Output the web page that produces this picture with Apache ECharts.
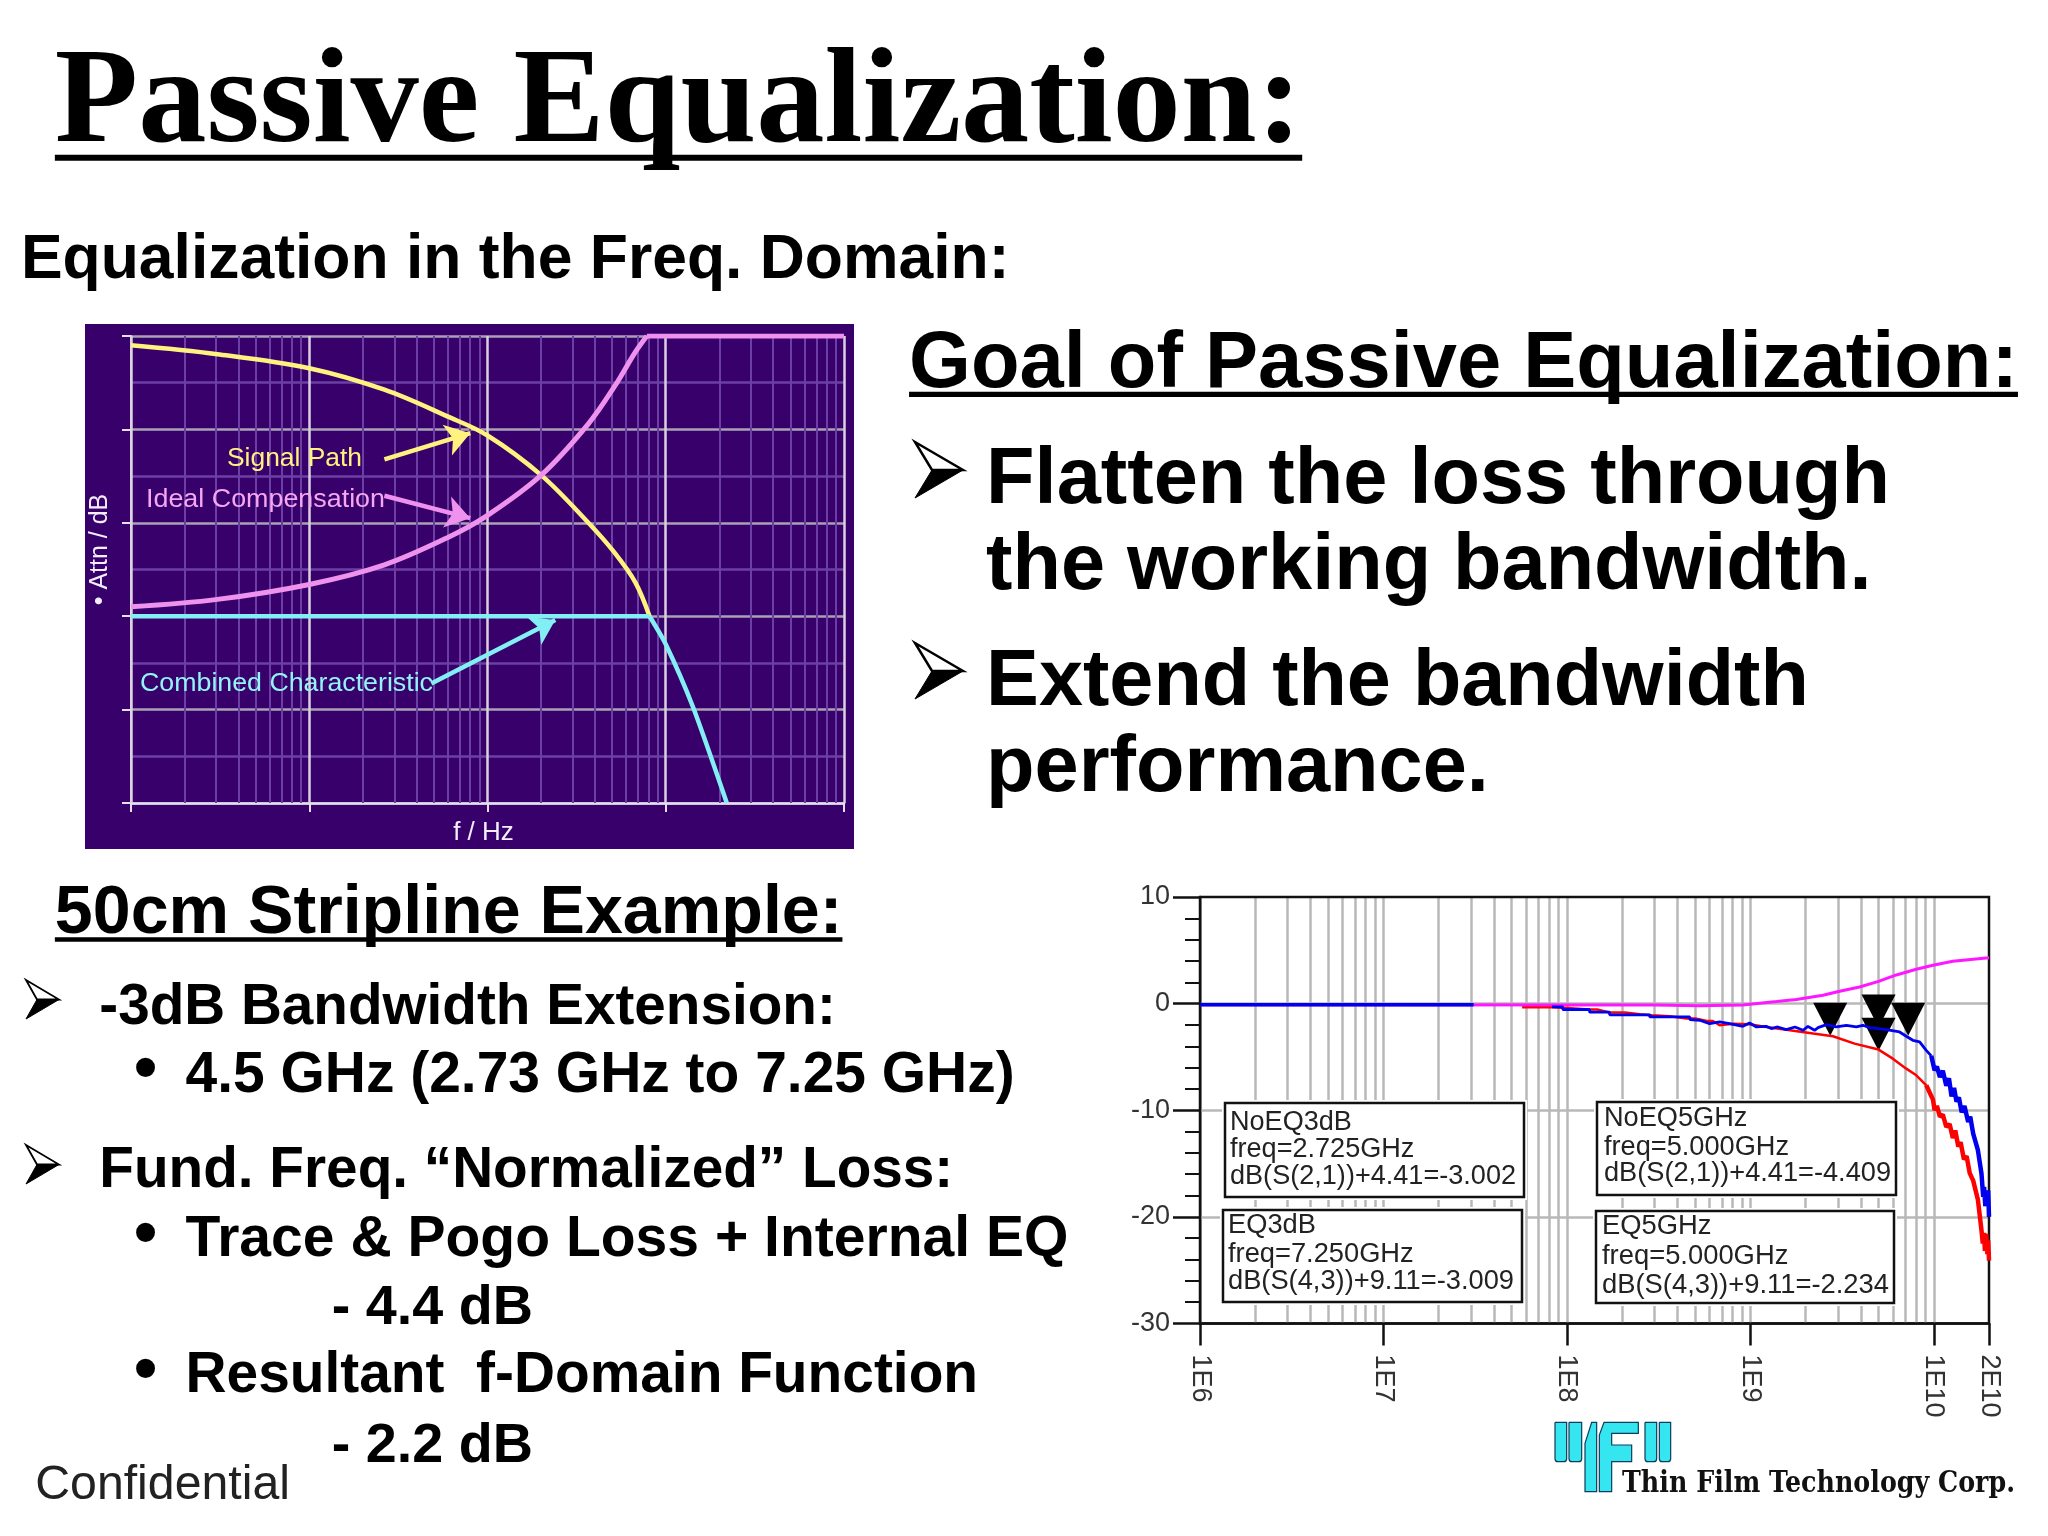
<!DOCTYPE html>
<html><head><meta charset="utf-8">
<style>html,body{margin:0;padding:0;background:#fff}#c{width:2048px;height:1536px}</style>
<script src="https://cdn.jsdelivr.net/npm/echarts@6/dist/echarts.min.js"></script>
</head><body><div id="c"></div>
<script>
// ---------- left chart data (relative frequency, attenuation) ----------
const signalPath = [[1,-1],[3.05,-1.95],[10,-3.45],[26.4,-5.75],[59.5,-8.6],[100,-10.65],[200,-14.9],[368,-20],[516,-23.2],[676,-26.4],[811,-30]];
const idealRise = [[1,-29],[3.05,-28.2],[10,-26.6],[26.4,-24.5],[59.5,-21.6],[100,-19.2],[200,-14.9],[368,-9.4],[516,-5.4],[676,-1.7],[784,0]];
const idealFlat = [[784,0],[10000,0]];
const combinedFlat = [[1,-30],[811,-30]];
const combinedFall = [[811,-30],[1000,-33],[1420,-39.7],[2200,-50]];
const signalArrow = [[26.4,-13.2],[80,-10.4]];
const idealArrow = [[26.4,-17.1],[80,-19.5]];
const combinedArrow = [[48.4,-37.2],[240,-30.4]];
const leftMajorX = [1,10,100,1000,10000];
const leftMinorX = [2,3,4,5,6,7,8,9,20,30,40,50,60,70,80,90,200,300,400,500,600,700,800,900,2000,3000,4000,5000,6000,7000,8000,9000];
const leftMinorY = [-5,-15,-25,-35,-45];

// ---------- right chart data (Hz, dB) ----------
const gainCurve = [[1e6,-0.1],[3e8,-0.12],[5.3e8,-0.19],[9.1e8,-0.12],[1.39e9,0.19],[1.78e9,0.38],[2.49e9,0.78],[3.07e9,1.16],[3.94e9,1.56],[5e9,2.09],[6.25e9,2.69],[8.03e9,3.22],[9.9e9,3.6],[1.27e10,3.97],[1.93e10,4.28],[2e10,4.3]];
const eqLow = [[1e6,-0.1],[3.1e7,-0.1]];
const eqMid = [[8.3e7,-0.3],[9.5e7,-0.3],[9.5e7,-0.55],[1.33e8,-0.55],[1.33e8,-0.8],[1.71e8,-0.8],[1.71e8,-1.05],[2.83e8,-1.05],[2.83e8,-1.25],[4.68e8,-1.25],[4.68e8,-1.5],[5.3e8,-1.56],[6e8,-1.88],[6.8e8,-1.72],[7.7e8,-1.88],[9.1e8,-2.13],[9.9e8,-1.81],[1.08e9,-2.19],[1.22e9,-2.13],[1.3e9,-2.34],[1.41e9,-2.19],[1.57e9,-2.44],[1.75e9,-2.19],[1.94e9,-2.5],[2.06e9,-2.13],[2.24e9,-2.5],[2.34e9,-2.25],[2.6e9,-1.97],[2.94e9,-2.19],[3.34e9,-2.03],[3.78e9,-2.19],[4.11e9,-2.03],[4.47e9,-2.25],[5.51e9,-2.44],[6.51e9,-2.66],[7.08e9,-3.06],[7.69e9,-3.44],[8.37e9,-3.59],[9.1e9,-4.38],[9.69e9,-4.9]];
const eqHigh = [[9.69e9,-4.9],[1.01e10,-6.25],[1.04e10,-5.9],[1.08e10,-6.9],[1.12e10,-6.3],[1.17e10,-7.7],[1.21e10,-7],[1.25e10,-8.7],[1.29e10,-7.9],[1.33e10,-9.2],[1.37e10,-8.8],[1.42e10,-10.2],[1.47e10,-9.6],[1.54e10,-11.1],[1.58e10,-10.6],[1.64e10,-12.2],[1.74e10,-13.75],[1.82e10,-15.94],[1.86e10,-18.13],[1.88e10,-17.2],[1.91e10,-19],[1.94e10,-17.6],[1.96e10,-19],[1.98e10,-17.5],[2e10,-20]];
const noEqMid = [[5.7e7,-0.35],[8.3e7,-0.35],[1e8,-0.4],[1.33e8,-0.55],[1.46e8,-0.55],[1.71e8,-0.83],[2.07e8,-0.83],[2.5e8,-1],[2.9e8,-1.1],[3.64e8,-1.18],[4.5e8,-1.4],[5e8,-1.4],[5.8e8,-1.63],[6.25e8,-1.63],[6.8e8,-2.03],[8.05e8,-1.88],[9.9e8,-1.94],[1.22e9,-2.19],[1.57e9,-2.44],[2.2e9,-2.81],[2.82e9,-3.06],[3.7e9,-3.75],[5e9,-4.31],[5.98e9,-5.16],[7.08e9,-6.1],[8.03e9,-6.72],[9.1e9,-7.66]];
const noEqHigh = [[9.1e9,-7.66],[9.9e9,-9],[1.01e10,-10],[1.04e10,-9.6],[1.08e10,-10.6],[1.12e10,-10.4],[1.17e10,-11.56],[1.22e10,-11.3],[1.27e10,-12.6],[1.31e10,-11.9],[1.36e10,-13.4],[1.4e10,-13],[1.46e10,-14.6],[1.51e10,-14.3],[1.57e10,-15.9],[1.64e10,-16.6],[1.74e10,-18.4],[1.82e10,-21.25],[1.85e10,-22.5],[1.88e10,-21.5],[1.9e10,-23.2],[1.93e10,-21.6],[1.96e10,-23.5],[1.98e10,-22.2],[2e10,-24.1]];
const markerPoints = [[2.725e9,-3.002],[7.25e9,-3.009],[5e9,-4.409],[5e9,-2.234]];
const rightMajorY = [0,-10,-20];
const rightGridX = [];
[1e6,1e7,1e8,1e9].forEach(d => [1,2,3,4,5,6,7,8,9].forEach(m => rightGridX.push(d*m)));
rightGridX.push(1e10);

// ---------- annotation boxes ----------
const boxLines = [
  ['NoEQ3dB','freq=2.725GHz','dB(S(2,1))+4.41=-3.002'],
  ['EQ3dB','freq=7.250GHz','dB(S(4,3))+9.11=-3.009'],
  ['NoEQ5GHz','freq=5.000GHz','dB(S(2,1))+4.41=-4.409'],
  ['EQ5GHz','freq=5.000GHz','dB(S(4,3))+9.11=-2.234']
];

// ---------- text helper ----------
const K = 2048/1568;
const cv = document.createElement('canvas').getContext('2d');
const SANS = '"Liberation Sans"', SERIF = '"Liberation Serif"';
const gfx = [];
function txt(s, x0, x1, base, o){ // pixel coordinates
  o = o || {};
  const fam = o.family || SANS, wt = o.weight || 'bold';
  cv.font = wt+' 100px '+fam;
  const w100 = cv.measureText(s).width;
  let size = o.size, sx = 1;
  if (x1 != null) {
    if (size) sx = (x1-x0)/(w100*size/100); else size = (x1-x0)/w100*100;
  }
  cv.font = wt+' '+size+'px '+fam;
  cv.textBaseline = 'middle';
  const d = cv.measureText('H').actualBoundingBoxDescent;
  cv.textBaseline = 'alphabetic';
  gfx.push({type:'text', x:x0, y:base-d, scaleX:sx, z:o.z||60, silent:true,
    style:{text:s, x:0, y:0, fontSize:size, fontFamily:fam, fontWeight:wt, fill:o.color||'#000', align:'left', verticalAlign:'middle'}});
}
function m(s,a,b,base,o){ txt(s,a*K,b==null?null:b*K,base*K,o); }
function rect(x,y,w,h,fill,o){ o=o||{}; gfx.push({type:'rect',z:o.z==null?60:o.z,silent:true,shape:{x,y,width:w,height:h,r:o.r||0},style:{fill,stroke:o.stroke||null,lineWidth:o.lw||0}}); }
function poly(points,fill,stroke,lw){ gfx.push({type:'polygon',z:60,silent:true,shape:{points},style:{fill,stroke,lineWidth:lw,lineJoin:'miter'}}); }
function arrowHead(x,top,tip,notch,bottom){ // outlined upper half, solid lower half
  const mid=(top+bottom)/2;
  poly([[x,top],[tip,mid],[notch,mid]],'#fff','#000',top<700?2.5:1.8);
  poly([[x,bottom],[tip,mid],[notch,mid]],'#000','#000',1);
}

// slide text
m('Passive Equalization:',42,997,108,{family:SERIF});
rect(42*K,118.5*K,955*K,4.5*K,'#000');
m('Equalization in the Freq. Domain:',16,773,213);
m('Goal of Passive Equalization:',696,1545,296);
rect(696*K,300*K,849*K,4*K,'#000');
arrowHead(915,442,963,932,498);
m('Flatten the loss through',755,1447,385);
m('the working bandwidth.',755,1433,451);
arrowHead(915,643,963,932,699);
m('Extend the bandwidth',755,1385,540);
m('performance.',755,1140,605.5);
m('50cm Stripline Example:',42,645,714);
rect(42*K,717.5*K,603*K,3.5*K,'#000');
arrowHead(26,980,59,37,1019);
m('-3dB Bandwidth Extension:',76,640,784);
m('\u2022',102.5,null,834,{size:66});
m('4.5 GHz (2.73 GHz to 7.25 GHz)',142,777,836);
arrowHead(26,1145,59,37,1184);
m('Fund. Freq. \u201CNormalized\u201D Loss:',76,730,909);
m('\u2022',102.5,null,960,{size:66});
m('Trace & Pogo Loss + Internal EQ',142,818,962);
m('- 4.4 dB',254,408,1014);
m('\u2022',102.5,null,1064,{size:66});
m('Resultant  f-Domain Function',142,749,1066);
m('- 2.2 dB',254,408,1119);
m('Confidential',27,222,1148,{weight:'normal',color:'#222'});

// left panel background
rect(85,324,769,525,'#38006b',{z:-1});
// left chart labels
txt('Signal Path',227,362,466,{weight:'normal',size:26,color:'#fff27f'});
txt('Ideal Compensation',146,385,507,{weight:'normal',size:26,color:'#f6a6f2'});
txt('Combined Characteristic',140,433,691,{weight:'normal',size:26,color:'#93f3f7'});

// annotation boxes
const boxGeom = [
 {x:1225,y:1103,w:299,h:94,tx:1230,tr:1516,b:[1130,1157,1184]},
 {x:1223,y:1210,w:299,h:92,tx:1228,tr:1514,b:[1233,1262,1289]},
 {x:1597,y:1102,w:299,h:93,tx:1604,tr:1891,b:[1126,1155,1181]},
 {x:1596,y:1211,w:298,h:92,tx:1602,tr:1889,b:[1234,1264,1293]}
];
boxGeom.forEach((g,i)=>{
  rect(g.x-3,g.y-3,g.w+6,g.h+6,'#fff',{z:40});
  rect(g.x,g.y,g.w,g.h,'#fff',{z:41,stroke:'#111',lw:2.5});
  boxLines[i].forEach((l,j)=>{
    cv.font='normal 27px '+SANS;
    const full=cv.measureText(boxLines[i][2]).width;
    const sx=(g.tr-g.tx)/full;
    txt(l,g.tx,g.tx+cv.measureText(l).width*sx,g.b[j],{weight:'normal',size:27,color:'#222',z:45});
  });
});

// logo
const LOGO='#35e6f0', LS='#0c3d5c';
const lx=v=>1540+v/3, ly=v=>1410+v/3;
[[45,37,80,155],[87,37,125,155],[315,37,350,155],[358,37,392,155]].forEach(b=>rect(lx(b[0]),ly(b[1]),(b[2]-b[0])/3,(b[3]-b[1])/3,LOGO,{stroke:LS,lw:1.2,r:[0,0,3,3]}));
poly([[lx(135),ly(245)],[lx(135),ly(100)],[lx(155),ly(37)],[lx(170),ly(37)],[lx(170),ly(245)]],LOGO,LS,1.2);
poly([[lx(178),ly(245)],[lx(178),ly(75)],[lx(192),ly(37)],[lx(295),ly(37)],[lx(295),ly(70)],[lx(215),ly(70)],[lx(215),ly(105)],[lx(275),ly(105)],[lx(275),ly(155)],[lx(215),ly(155)],[lx(215),ly(245)]],LOGO,LS,1.2);
txt('Thin Film Technology Corp.',1622,2015,1492,{family:'"DejaVu Serif"',size:30,color:'#111'});

// ---------- series helpers ----------
const ruleBase = (color,width,z) => ({silent:true,animation:false,z,symbol:'none',label:{show:false},lineStyle:{color,width,type:'solid'}});
const vLines = (arr,color,width,xi,yi) => ({type:'line',xAxisIndex:xi,yAxisIndex:yi,data:[],z:1,silent:true,
  markLine:Object.assign(ruleBase(color,width,1),{data:arr.map(v=>({xAxis:v}))})});
const hLines = (arr,color,width,xi,yi) => ({type:'line',xAxisIndex:xi,yAxisIndex:yi,data:[],z:1,silent:true,
  markLine:Object.assign(ruleBase(color,width,1),{data:arr.map(v=>({yAxis:v}))})});
const curve = (name,data,color,width,xi,yi,z,smooth) => ({type:'line',name,xAxisIndex:xi,yAxisIndex:yi,data,z,showSymbol:false,symbol:'none',smooth:smooth||false,silent:true,lineStyle:{color,width}});
const arrow = (pair,color) => ({type:'line',xAxisIndex:0,yAxisIndex:0,data:[],z:6,silent:true,
  markLine:{silent:true,animation:false,z:6,symbol:['none','arrow'],symbolSize:24,label:{show:false},lineStyle:{color,width:4.5,type:'solid'},
    data:[[{coord:pair[0]},{coord:pair[1]}]]}});

const option = {
  animation:false,
  backgroundColor:'#fff',
  textStyle:{fontFamily:SANS},
  grid:[
    {left:131,top:336,width:713,height:467},
    {left:1200,top:897,width:789,height:426.5,z:2,show:true,borderColor:'#111',borderWidth:2.5,backgroundColor:'transparent'}
  ],
  xAxis:[
    {type:'log',gridIndex:0,logBase:10,min:1,max:10000,name:'f / Hz',nameLocation:'middle',nameGap:17,
      nameTextStyle:{color:'#f4eefa',fontSize:26,padding:[0,0,0,-8],fontFamily:SANS},
      axisLine:{onZero:false,lineStyle:{color:'#e6deee',width:2.5}},
      axisTick:{show:true,inside:false,length:9,lineStyle:{color:'#e6deee',width:2}},axisLabel:{show:false},splitLine:{show:false}},
    {type:'log',gridIndex:1,logBase:10,min:1e6,max:2e10,
      axisLine:{onZero:false,lineStyle:{color:'#111',width:2.5}},
      axisTick:{show:true,length:22,lineStyle:{color:'#111',width:2.5}},
      axisLabel:{show:true,rotate:-90,margin:31,fontSize:27,color:'#333',fontFamily:SANS,showMinLabel:true,showMaxLabel:true,hideOverlap:false,
        formatter:v=>Number(v).toExponential(0).replace('e+','E')},
      splitLine:{show:false}}
  ],
  yAxis:[
    {type:'value',gridIndex:0,min:-50,max:0,interval:10,name:'\u2022 Attn / dB',nameLocation:'middle',nameGap:18,nameRotate:90,
      nameTextStyle:{color:'#f4eefa',fontSize:25,padding:[0,0,0,40],fontFamily:SANS},
      axisLine:{show:true,onZero:false,lineStyle:{color:'#e6deee',width:2}},
      axisTick:{show:true,length:9,lineStyle:{color:'#e6deee',width:2}},axisLabel:{show:false},
      splitLine:{show:true,lineStyle:{color:'#a7a2b4',width:2.5}}},
    {type:'value',gridIndex:1,min:-30,max:10,interval:10,
      axisLine:{show:true,onZero:false,lineStyle:{color:'#111',width:2.5}},
      axisTick:{show:true,length:27,lineStyle:{color:'#111',width:2.5}},
      minorTick:{show:true,splitNumber:5,length:15,lineStyle:{color:'#111',width:2}},
      axisLabel:{show:true,margin:30,fontSize:27,color:'#333',fontFamily:SANS},
      splitLine:{show:false}}
  ],
  graphic:{elements:gfx},
  series:[
    vLines(leftMinorX,'#6b3fa3',2,0,0),
    hLines(leftMinorY,'#6b3fa3',2.5,0,0),
    vLines(leftMajorX,'#d9d2de',2.5,0,0),
    curve('Signal Path',signalPath,'#fff27f',4.5,0,0,3,0.35),
    curve('Combined Characteristic',combinedFlat,'#84eef5',4.5,0,0,3),
    curve('Combined Characteristic ',combinedFall,'#84eef5',4.5,0,0,3,0.25),
    curve('Ideal Compensation',idealRise,'#ee92ee',5,0,0,4,0.35),
    curve('Ideal Compensation ',idealFlat,'#ee92ee',5,0,0,4),
    arrow(signalArrow,'#fff27f'),
    arrow(idealArrow,'#ee92ee'),
    arrow(combinedArrow,'#84eef5'),

    vLines(rightGridX,'#b8b8b8',2.5,1,1),
    hLines(rightMajorY,'#b8b8b8',2.5,1,1),
    {type:'scatter',name:'Markers',xAxisIndex:1,yAxisIndex:1,data:markerPoints,z:3,silent:true,
      symbol:'path://M0 0L100 0L50 100Z',symbolSize:[34,33],symbolOffset:[0,-16.5],itemStyle:{color:'#000',opacity:1}},
    curve('NoEQ',noEqMid,'#ff0000',2.5,1,1,4),
    curve('NoEQ ',noEqHigh,'#ff0000',4.5,1,1,4),
    curve('Gain',gainCurve,'#ff18ff',3,1,1,5),
    curve('EQ low',eqLow,'#0000ee',3.5,1,1,6),
    curve('EQ',eqMid,'#0000ee',2.8,1,1,6),
    curve('EQ ',eqHigh,'#0000ee',4.5,1,1,6)
  ]
};
echarts.init(document.getElementById('c')).setOption(option);
</script></body></html>
